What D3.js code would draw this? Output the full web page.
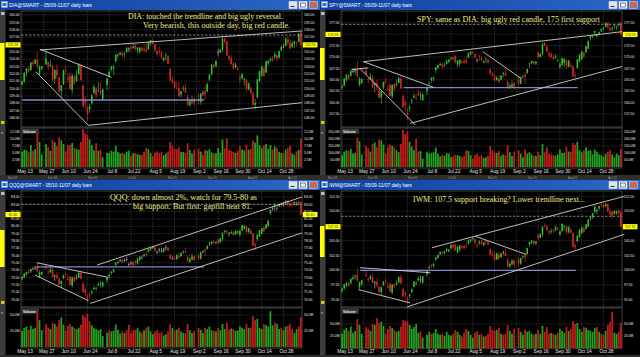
<!DOCTYPE html>
<html><head><meta charset="utf-8">
<script src="https://cdn.jsdelivr.net/npm/d3@7"></script>
<style>body{margin:0;background:#000;overflow:hidden}svg{display:block}</style>
</head><body><svg id="c" width="640" height="357"></svg>
<script>
// ---------- DATA ----------
const holidays = ["2013-05-27","2013-07-04","2013-09-02"];
const dateTicks = ["May 13","May 27","Jun 10","Jun 24","Jul 8","Jul 22","Aug 5","Aug 19","Sep 2","Sep 16","Sep 30","Oct 14","Oct 28"];
const stripLabels = ["Mar'08","Dec'08","Nov'09","Jul'10","Mar'11","Dec'11","Aug'12","Apr'13"];

const diaTitle = "DIA@SMART - 05/09-11/07 daily bars";
const spyTitle = "SPY@SMART - 05/09-11/07 daily bars";
const qqqTitle = "QQQ@SMART - 05/10-11/07 daily bars";
const iwmTitle = "IWM@SMART - 05/09-11/07 daily bars";

const diaNotes = ["DIA: touched the trendline and big ugly reversal.","Very bearish, this outside day, big red candle."];
const spyNotes = ["SPY: same as DIA: big ugly red candle, 175 first support"];
const qqqNotes = ["QQQ: down almost 2%, watch for 79.5-80 as","big support. But first: gapfill near 81."];
const iwmNotes = ["IWM: 107.5 support breaking? Lower trendline next..."];

const diaTicks = [146,147,148,149,150,151,152,153,154,155,156,157,158,159,160];
const spyTicks = [157.5,160,162.5,165,167.5,170,172.5,175,177.5];
const qqqTicks = [70,71,72,73,74,75,76,77,78,79,80,81,82,83,84];
const iwmTicks = [95,97.5,100,102.5,105,107.5,110,112.5];
const diaVolTicks = [2.5,5,7.5,10,12.5];
const spyVolTicks = [50,100,150,200,250];
const qqqVolTicks = [25,50];
const iwmVolTicks = [25,50];

// [open, high, low, close]
const diaOHLC = [
[150.6,151.1,150.4,150.91],[150.9,152.2,150.8,152.15],[152.1,152.8,151.6,152.75],[152.7,153.0,152.2,152.33],[152.5,153.6,152.4,153.54],
[153.5,153.9,153.1,153.35],[153.4,154.1,153.3,153.88],[153.9,155.0,152.6,153.07],[152.0,153.2,151.8,152.94],[152.7,153.1,152.4,153.03],
[153.3,155.4,153.2,154.09],[153.6,153.7,152.5,153.02],[153.1,153.9,152.9,153.24],[153.0,153.3,151.1,151.15],
[151.3,152.6,150.7,152.54],[152.6,153.3,151.3,151.77],[151.5,151.6,149.5,149.60],[149.7,150.5,148.7,150.40],[150.6,152.6,150.5,152.48],
[152.5,153.0,152.0,152.39],[151.5,152.0,150.8,151.22],[151.7,152.2,149.8,149.95],[149.8,152.0,149.3,151.76],[151.6,151.9,150.5,150.70],
[151.0,152.5,150.9,151.79],[152.0,153.5,151.8,153.18],[153.1,153.4,151.1,151.12],[150.4,150.6,147.4,147.58],[148.3,149.0,147.2,148.00],
[147.4,147.7,145.6,146.60],[147.2,147.9,146.7,147.60],[148.0,149.3,147.8,149.10],[149.4,150.6,149.3,150.24],[150.0,150.2,148.7,149.10],
[149.7,150.9,149.5,149.75],[149.7,150.8,149.1,149.32],[148.5,150.0,148.3,149.88],[150.5,151.5,149.8,151.36],
[151.6,152.6,151.5,152.25],[152.6,153.1,152.3,153.00],[152.7,153.2,151.9,152.91],[153.7,154.7,153.6,154.60],[154.5,154.8,154.1,154.64],
[154.8,155.0,154.5,154.84],[154.8,155.1,154.2,154.52],[154.6,155.0,154.2,154.71],[155.0,155.7,154.8,155.49],[155.4,155.6,155.0,155.44],
[155.6,155.8,155.2,155.45],[155.5,156.1,155.4,155.67],[155.9,156.0,155.1,155.42],[155.2,155.7,154.8,155.56],[155.0,155.6,154.7,155.59],
[155.5,155.7,155.0,155.21],[155.4,155.9,155.0,155.20],[155.3,156.1,154.9,155.00],[155.3,156.4,155.3,156.28],[156.2,156.6,155.8,156.58],
[156.5,156.7,156.0,156.12],[156.0,156.1,155.0,155.19],[155.1,155.2,154.3,154.71],[155.1,155.7,154.6,154.98],[154.9,155.1,154.0,154.25],
[153.9,154.3,153.6,154.19],[154.4,154.9,153.8,154.51],[154.4,154.6,153.3,153.37],[152.7,152.8,151.0,151.12],[151.1,151.6,150.7,150.81],
[150.9,151.2,150.0,150.10],[150.1,150.9,149.9,150.02],[150.1,150.9,148.9,148.97],[149.2,149.7,148.8,149.63],[150.0,150.4,149.6,150.10],
[150.1,150.7,149.4,149.46],[148.9,149.2,147.7,147.76],[147.7,148.6,147.6,148.24],[148.2,149.0,147.9,148.40],[148.6,148.8,147.6,148.10],
[148.6,149.4,147.8,148.34],[148.2,149.4,147.8,149.30],[149.4,149.7,149.0,149.38],[149.6,150.4,148.4,149.22],
[149.6,150.8,149.5,150.63],[151.2,151.9,151.0,151.91],[151.9,153.3,151.8,153.26],[153.2,153.4,152.7,153.00],[153.1,153.8,152.8,153.76],
[154.9,155.4,154.4,154.94],[154.9,155.4,154.8,155.29],[155.3,157.1,155.0,156.77],[156.8,156.9,156.1,156.36],[156.4,156.5,154.4,154.52],
[154.4,154.6,153.7,154.01],[154.1,154.5,153.2,153.34],[153.4,153.6,152.6,152.73],[152.9,153.6,152.7,153.28],[152.7,153.0,152.4,152.58],
[151.5,151.9,150.8,151.30],[151.4,152.1,151.2,151.91],[151.2,151.5,150.4,151.33],[151.2,151.3,149.6,149.96],[149.9,150.8,149.7,150.73],
[150.0,150.3,149.3,149.36],[149.4,149.6,147.7,147.76],[147.8,148.6,147.2,148.03],[148.8,151.3,148.7,151.26],[151.0,152.4,150.9,152.37],
[151.8,153.1,151.6,153.01],[152.7,153.1,151.6,151.68],[152.2,153.8,152.1,153.73],[153.4,153.9,153.1,153.72],[153.8,154.3,153.6,153.99],
[154.1,154.4,153.6,153.92],[154.3,155.0,154.0,154.67],[154.5,154.6,153.7,154.13],[154.2,155.2,154.1,155.09],[155.2,155.9,155.1,155.70],
[155.7,156.1,155.5,155.68],[155.8,156.9,155.7,156.80],[156.7,157.0,155.9,156.18],[156.2,156.7,155.3,155.46],[155.7,156.5,155.5,156.16],
[156.1,156.5,155.5,156.39],[156.3,156.4,155.7,156.18],[156.3,157.5,156.3,157.46],[157.6,157.8,155.8,155.94]
];
const diaVol = [5.5,6.2,6.0,5.2,7.8, 5.8,6.4,12.3,9.0,4.5, 8.2,7.0,5.8,9.6, 8.8,7.5,10.5,9.5,8.2, 5.5,7.8,7.9,8.6,6.8,
 6.5,6.2,8.9,13.5,12.0, 11.5,9.8,7.8,6.0,8.5, 5.8,6.2,3.5,5.0, 5.0,5.8,5.5,7.6,5.3, 4.8,5.0,4.6,5.5,5.8,
 4.0,4.9,5.0,4.6,4.4, 4.3,5.4,6.8,6.4,4.9, 3.9,5.1,5.6,5.0,5.4, 4.2,4.8,5.5,9.0,7.6, 6.5,6.4,7.0,5.3,5.4,
 5.0,8.5,6.1,4.8,6.2, 6.6,5.5,4.3,6.2, 5.8,6.4,5.2,4.8,4.9, 6.8,5.1,9.8,6.7,10.2, 6.1,5.8,5.4,5.0,5.8,
 7.5,6.3,5.9,8.0,6.2, 6.4,9.4,8.7,11.3,7.8, 6.9,7.7,8.2,6.5,7.9, 6.3,7.4,6.8,5.4,5.0, 4.9,6.3,6.9,7.6,4.8, 4.4,5.6,6.1,10.2];

const spyOHLC = [
[163.3,163.9,162.9,163.58],[163.7,165.4,163.6,165.23],[164.9,166.3,164.6,166.08],[166.0,166.4,165.1,165.25],[165.9,167.1,165.7,166.95],
[166.8,167.6,166.5,166.83],[166.8,167.6,166.1,167.12],[167.3,169.1,165.4,165.74],[163.9,165.6,163.5,165.25],[164.3,165.3,164.1,165.16],
[167.0,167.8,166.0,166.21],[165.2,165.5,164.2,165.04],[165.1,166.5,164.9,165.64],[165.4,166.0,163.2,163.30],
[163.8,164.4,162.2,164.24],[164.3,165.0,162.8,163.34],[163.0,163.4,160.9,161.09],[161.2,162.6,159.8,162.46],[163.3,164.6,162.8,164.54],
[164.8,165.3,164.1,164.48],[162.9,164.0,162.5,162.81],[163.9,164.2,161.3,161.45],[161.3,164.0,160.9,163.84],[164.0,164.3,162.6,162.87],
[163.8,165.0,163.5,164.10],[164.3,165.6,164.2,165.38],[165.3,165.8,163.0,163.09],[161.4,162.0,158.9,159.02],[160.0,160.7,158.1,159.44],
[157.8,158.6,156.2,157.51],[158.7,159.5,157.9,159.00],[160.3,160.9,159.7,160.53],[161.1,162.0,161.0,161.52],[160.9,161.9,160.5,160.83],
[162.1,162.8,161.4,161.61],[161.5,162.4,160.5,161.61],[160.5,162.0,160.4,161.74],[162.6,163.6,161.6,163.39],
[164.1,164.6,163.9,164.25],[165.0,165.6,164.4,165.43],[165.2,165.7,164.6,165.46],[167.1,167.8,166.5,167.70],[167.6,168.3,167.3,168.22],
[168.4,168.8,168.1,168.45],[168.5,168.6,167.4,167.83],[168.1,168.8,167.8,168.29],[168.5,169.5,168.3,169.14],[168.9,169.5,168.7,169.41],
[169.6,170.0,169.3,169.75],[169.8,170.0,169.3,169.44],[170.2,170.4,168.6,168.79],[168.3,169.4,167.8,169.23],[168.5,169.5,167.9,169.37],
[169.0,169.3,168.6,168.73],[169.1,169.7,168.5,168.80],[169.3,170.2,168.6,168.77],[169.9,170.9,169.7,170.89],[170.6,171.2,170.3,171.17],
[171.0,171.3,170.6,170.91],[170.6,170.8,169.6,169.94],[169.3,169.7,168.8,169.29],[170.1,170.4,169.1,169.95],[169.8,170.3,169.1,169.34],
[168.8,169.3,168.6,169.15],[169.5,170.0,168.7,169.62],[169.4,169.6,168.6,168.74],[167.3,167.5,166.1,166.33],[166.2,166.8,165.7,165.78],
[165.8,166.4,164.7,164.81],[164.9,165.9,164.8,165.44],[165.2,166.1,164.3,164.48],[165.0,166.0,164.9,165.90],[166.3,166.6,165.5,166.55],
[166.4,167.3,165.8,165.88],[164.6,164.9,163.1,163.25],[163.2,164.3,163.0,163.70],[163.5,164.9,163.4,164.02],[164.3,164.5,162.9,163.50],
[165.0,165.8,163.6,164.18],[164.1,165.7,164.0,165.51],[165.6,166.0,165.3,165.71],[166.2,166.7,164.1,165.72],
[166.5,167.4,166.3,167.37],[168.5,168.7,167.6,168.60],[168.6,169.2,168.4,169.11],[169.0,169.1,168.3,168.54],[168.6,169.1,168.2,169.00],
[171.0,171.2,169.6,169.96],[170.0,170.8,169.9,170.68],[170.7,173.1,170.3,172.75],[173.0,173.3,172.3,172.43],[172.3,172.5,171.0,171.19],
[170.9,171.2,170.0,170.38],[170.6,171.1,169.7,169.94],[170.0,170.5,169.3,169.48],[169.8,170.6,169.6,170.07],[169.3,169.6,168.9,169.38],
[167.8,168.9,167.4,168.36],[168.2,169.9,168.1,169.70],[168.7,169.7,167.9,169.59],[169.3,169.5,167.4,168.07],[167.9,169.3,167.7,169.25],
[168.1,168.9,167.8,167.81],[167.9,168.1,165.7,165.75],[166.0,166.7,164.7,165.84],[167.6,169.6,167.5,169.46],[169.0,170.6,168.8,170.52],
[169.5,171.3,169.3,171.21],[170.9,171.2,169.9,170.01],[171.0,172.4,170.9,172.35],[171.8,173.6,171.7,173.52],[174.1,174.7,173.6,174.65],
[174.5,174.8,174.1,174.67],[175.3,175.8,174.5,175.67],[174.8,175.0,174.3,174.84],[175.0,175.6,174.7,175.41],[175.6,176.2,175.5,176.18],
[176.1,176.6,175.8,176.41],[176.6,177.5,176.4,177.40],[177.4,177.6,176.1,176.53],[176.3,176.9,175.6,175.85],[176.2,176.6,175.6,176.36],
[176.7,177.1,176.2,176.99],[176.4,177.0,175.9,176.50],[177.0,177.5,176.6,177.25],[177.5,177.6,174.9,174.93]
];
const spyVol = [85,110,120,115,130, 95,100,210,185,90, 150,135,110,165, 175,140,195,190,160, 95,145,160,150,140,
 120,105,165,265,235, 255,180,145,120,200, 110,115,60,110, 95,100,105,140,95, 75,85,80,100,95,
 70,75,90,85,80, 70,80,120,115,85, 60,85,95,75,85, 65,70,80,150,120, 105,100,115,80,90,
 85,155,105,80,110, 120,95,70,125, 95,105,90,80,80, 110,85,165,105,140, 95,90,85,80,90,
 125,100,100,145,110, 110,170,160,180,120, 105,120,140,115,120, 90,125,110,90,85, 75,95,110,120,90, 70,95,85,130];

const qqqOHLC = [
[72.8,73.2,72.6,73.05],[73.0,73.6,72.9,73.55],[73.4,73.8,73.2,73.75],[73.8,74.1,73.5,73.60],[73.8,74.2,73.6,74.15],
[74.1,74.5,74.0,74.25],[74.3,74.6,74.0,74.35],[74.5,75.0,73.7,73.85],[73.1,73.9,72.9,73.70],[73.4,73.8,73.3,73.75],
[74.5,74.8,74.1,74.25],[73.8,73.9,73.3,73.70],[73.7,74.4,73.6,74.10],[74.0,74.3,73.0,73.05],
[73.2,73.4,72.5,73.25],[73.3,73.7,72.7,72.95],[72.8,73.0,71.9,72.05],[72.1,72.6,71.5,72.50],[72.9,73.4,72.7,73.30],
[73.5,73.8,73.2,73.35],[72.8,73.3,72.6,72.65],[73.1,73.2,71.9,72.00],[71.9,73.1,71.6,73.00],[73.0,73.2,72.3,72.45],
[72.9,73.4,72.7,72.95],[73.0,73.8,72.9,73.65],[73.6,73.9,72.8,72.80],[72.1,72.4,70.9,71.05],[71.4,71.6,70.4,70.95],
[70.4,70.7,69.55,70.15],[70.7,70.9,70.1,70.55],[70.9,71.3,70.7,71.05],[71.4,71.8,71.3,71.55],[71.4,71.8,71.2,71.50],
[71.9,72.4,71.8,72.05],[72.0,72.5,71.6,72.15],[71.8,72.4,71.6,72.35],[72.6,73.0,72.2,72.95],
[73.3,73.5,72.9,73.25],[73.6,73.9,73.3,73.75],[73.8,74.2,73.6,74.05],[74.7,75.1,74.5,75.00],[75.0,75.3,74.8,75.15],
[75.3,75.5,75.1,75.35],[75.4,75.5,74.9,75.15],[75.3,75.6,75.1,75.35],[75.5,75.8,75.2,75.45],[74.8,75.0,74.5,74.75],
[75.0,75.2,74.7,74.95],[75.1,75.3,74.5,74.65],[75.2,75.4,74.6,75.05],[74.9,75.7,74.7,75.60],[75.4,75.9,75.2,75.85],
[75.7,76.0,75.5,75.65],[75.9,76.3,75.8,76.10],[76.2,76.5,75.9,76.05],[76.5,76.9,76.4,76.85],[76.8,77.1,76.6,77.05],
[77.0,77.3,76.9,77.25],[77.1,77.2,76.5,76.65],[76.5,76.7,76.2,76.45],[76.8,77.0,76.4,76.75],[76.6,77.0,76.4,76.55],
[76.5,77.1,76.4,76.95],[77.1,77.4,76.7,77.10],[77.0,77.2,76.6,76.65],[76.1,76.2,75.5,75.55],[75.6,75.9,75.4,75.60],
[75.6,75.9,75.4,75.45],[75.5,76.2,75.4,76.05],[75.9,76.4,75.6,75.70],[75.9,76.4,75.8,76.35],[76.5,76.7,76.2,76.60],
[76.5,77.0,76.3,76.40],[75.8,76.0,75.1,75.20],[75.1,75.8,75.0,75.45],[75.4,76.2,75.3,75.85],[75.9,76.0,75.2,75.40],
[75.9,76.3,75.3,75.65],[75.6,76.5,75.4,76.45],[76.5,76.7,76.3,76.55],[76.8,76.9,75.9,76.60],
[76.9,77.4,76.8,77.30],[77.7,77.8,77.3,77.75],[77.6,77.9,77.4,77.90],[77.9,78.0,77.6,77.75],[77.7,77.9,77.5,77.85],
[78.2,78.2,77.5,77.75],[77.8,78.4,77.7,78.35],[78.3,79.2,78.0,79.05],[79.2,79.5,79.0,79.35],[79.4,79.5,79.0,79.25],
[79.1,79.2,78.6,79.05],[79.1,79.5,78.9,79.20],[79.2,79.3,78.7,78.80],[78.9,79.5,78.8,79.35],[79.1,79.4,78.9,79.30],
[78.8,79.6,78.6,79.35],[79.4,80.2,79.3,80.10],[79.7,80.2,79.5,80.05],[80.0,80.1,79.0,79.20],[79.2,79.8,79.0,79.75],
[79.4,79.6,78.9,78.95],[79.0,79.1,77.3,77.35],[77.5,77.8,76.75,77.30],[78.2,78.9,78.0,78.85],[78.6,79.5,78.5,79.45],
[79.0,79.8,78.9,79.75],[79.8,80.0,79.2,79.30],[79.7,80.3,79.6,80.25],[80.0,80.8,79.9,80.75],[81.8,82.3,81.6,82.25],
[82.4,82.7,82.1,82.45],[82.8,83.1,82.1,82.75],[82.4,82.7,82.1,82.55],[82.7,83.1,82.6,83.05],[83.2,83.3,82.6,82.95],
[82.9,83.3,82.7,82.95],[83.2,83.6,83.0,83.45],[83.5,83.7,82.7,83.05],[82.9,83.3,82.7,82.85],[83.1,83.3,82.6,82.95],
[83.1,83.4,82.9,83.30],[83.0,83.4,82.8,83.25],[83.4,83.5,82.9,83.15],[83.3,83.4,81.55,81.60]
];
const qqqVol = [25,30,32,27,33, 28,30,58,42,26, 36,30,28,38, 36,32,42,46,35, 25,33,36,32,30,
 28,30,35,50,47, 52,40,34,30,28, 26,28,17,22, 26,24,25,35,27, 21,24,22,26,35,
 22,26,27,30,24, 22,26,30,32,24, 20,24,26,22,23, 18,20,24,36,30, 26,27,30,24,22,
 22,36,26,22,25, 30,27,22,30, 28,32,26,25,24, 30,26,36,28,38, 27,29,28,25,26,
 32,30,28,36,30, 30,48,42,44,30, 28,36,34,32,56, 34,38,36,28,30, 26,32,33,36,28, 22,28,32,47];

const iwmOHLC = [
[96.5,97.0,96.1,96.85],[96.9,97.7,96.7,97.55],[97.4,98.0,97.1,97.85],[97.8,98.2,97.2,97.35],[97.8,98.6,97.6,98.55],
[98.5,99.2,98.3,98.75],[98.8,99.3,98.4,98.95],[99.2,100.3,98.0,98.25],[97.1,98.1,96.8,97.95],[97.6,98.4,97.4,98.30],
[99.2,100.1,98.8,99.05],[98.5,98.7,97.9,98.35],[98.5,99.2,98.3,98.95],[98.8,99.3,97.8,97.85],
[97.9,98.2,96.9,97.95],[98.0,98.6,97.1,97.45],[97.2,97.4,96.1,96.25],[96.3,97.2,95.8,97.10],[97.5,98.2,97.3,98.05],
[98.3,98.6,97.8,98.10],[97.3,98.0,96.9,97.05],[97.7,97.9,96.2,96.35],[96.2,97.7,95.9,97.55],[97.5,97.8,96.9,97.25],
[97.6,98.3,97.4,97.85],[97.9,98.9,97.8,98.85],[98.8,99.2,97.7,97.75],[96.8,97.1,95.4,95.55],[96.1,96.4,95.1,95.85],
[95.2,95.5,94.35,94.95],[95.6,96.0,95.2,95.85],[96.3,96.9,96.1,96.75],[97.2,98.2,97.1,98.05],[97.7,98.2,97.4,97.85],
[98.3,99.0,98.1,98.65],[98.5,99.1,97.8,98.45],[97.9,99.0,97.7,98.95],[99.3,100.0,98.9,99.95],
[100.4,100.8,100.1,100.55],[100.9,101.1,100.3,100.75],[100.7,101.2,100.4,101.05],[101.8,102.3,101.5,102.15],[102.1,102.7,101.9,102.55],
[102.7,103.2,102.5,103.05],[103.0,103.2,102.5,102.85],[102.9,103.3,102.6,103.15],[103.3,103.8,103.1,103.55],[103.4,103.6,103.0,103.45],
[103.7,104.4,103.6,104.25],[104.3,104.5,103.7,103.85],[104.3,104.5,103.2,103.35],[103.0,104.1,102.8,103.95],[103.5,104.3,103.1,104.15],
[104.0,104.2,103.6,103.85],[104.1,104.4,103.4,103.75],[104.1,104.6,103.7,103.95],[104.5,105.2,104.3,105.05],[105.0,105.3,104.6,105.25],
[105.3,105.6,105.0,105.45],[105.3,105.4,104.4,104.65],[104.3,104.6,103.8,104.15],[104.6,105.0,104.2,104.85],[104.8,105.1,104.2,104.45],
[104.2,104.8,104.0,104.65],[104.9,105.2,104.3,104.85],[104.8,105.0,104.2,104.35],[103.5,103.7,102.5,102.65],[102.7,103.2,102.3,102.55],
[102.6,103.0,101.6,101.65],[101.8,103.0,101.7,102.85],[102.6,103.2,101.8,101.95],[102.2,102.9,102.1,102.85],[103.1,103.3,102.6,103.05],
[102.9,103.5,102.4,102.45],[101.8,102.0,100.5,100.65],[100.6,101.4,100.4,101.05],[101.0,101.9,100.8,101.55],[101.7,101.8,100.4,100.95],
[101.8,102.2,100.6,101.15],[101.1,102.1,100.9,102.05],[102.2,102.5,101.9,102.35],[102.7,102.9,101.4,102.25],
[102.7,103.8,102.6,103.75],[104.4,104.8,104.0,104.75],[104.6,105.1,104.4,104.95],[104.9,105.0,104.2,104.45],[104.5,104.9,104.2,104.85],
[105.9,106.0,105.1,105.45],[105.5,106.2,105.4,106.15],[106.1,107.5,105.7,107.35],[107.6,107.9,107.2,107.45],[107.4,107.6,106.6,106.85],
[106.6,106.9,105.9,106.35],[106.5,107.0,106.1,106.65],[106.7,107.0,106.3,106.55],[106.7,107.5,106.6,107.35],[107.1,107.3,106.7,106.95],
[106.0,106.8,105.8,106.55],[106.6,107.9,106.5,107.85],[107.3,107.6,106.7,107.45],[107.4,107.6,106.1,106.45],[106.4,107.4,106.2,107.35],
[106.8,107.1,106.2,106.35],[106.3,106.4,103.8,103.95],[104.2,104.6,103.3,103.85],[104.9,105.9,104.7,105.85],[105.6,106.9,105.5,106.85],
[106.3,107.3,106.1,107.25],[107.1,107.4,106.3,106.45],[107.0,107.8,106.9,107.75],[107.4,108.6,107.3,108.55],[108.7,109.0,108.4,108.75],
[108.9,109.7,108.7,109.65],[109.9,111.1,109.6,110.75],[110.2,110.4,109.5,110.15],[110.4,110.9,110.2,110.85],[111.1,111.3,110.6,110.95],
[111.0,111.3,110.5,110.65],[110.8,111.4,110.6,111.15],[111.2,111.4,109.8,109.95],[109.9,110.4,109.2,109.45],[109.9,110.0,108.7,109.15],
[109.5,110.1,109.4,110.05],[109.6,110.1,109.3,109.95],[110.1,110.3,109.3,109.65],[109.8,110.1,107.3,107.35]
];
const iwmVol = [30,38,42,36,45, 32,36,60,48,30, 44,40,36,50, 48,62,52,55,46, 30,40,46,42,38,
 34,36,45,58,56, 55,48,40,44,50, 32,35,22,28, 34,30,32,40,30, 28,30,26,34,28,
 26,30,38,34,28, 24,32,40,36,28, 22,32,36,28,30, 24,26,30,46,38, 36,38,42,30,28,
 30,48,36,30,40, 42,34,28,38, 34,36,30,28,30, 38,30,46,34,44, 30,32,30,28,32,
 40,36,32,44,36, 40,56,50,52,40, 34,44,42,38,36, 34,42,44,34,30, 28,36,48,54,75, 32,30,34,52];

// trendlines in data units: [weekday index 1, price 1, weekday index 2, price 2]
const diaLines = [[8.2,155.25,128.5,157.83],[8.2,155.34,41,151.54],[6.3,152.3,30.5,145.0],[30.5,145.0,128.5,148.08]];
const spyLines = [[9.8,168.96,128.5,175.53],[9.8,168.96,42,163.35],[8.2,167.5,33.6,155.1],[31.3,155.46,128.5,167.9],[64.6,171.15,82,165.32],[4.3,167.2,12,167.6]];
const qqqLines = [[34.4,74.68,128.5,84.0],[31.3,69.44,128.5,79.09],[6.7,75.0,39.7,73.0],[5.9,73.32,30.5,69.81]];
const iwmLines = [[41.3,103.8,129.6,112.5],[29.8,93.77,129.6,106.07],[61.2,105.73,84.3,102.69],[8.2,100.42,40.5,99.57],[7.5,96.7,31.3,94.45]];
// horizontal support: [from index, to index, price]
const diaSupport = [0,83.4,148.45];
const spySupport = [28.2,108.1,163.26];
const qqqSupport = [6.7,83.5,74.45];
const iwmSupport = [8.2,107.3,99.98];
const diaDash = 157.28, spyDash = 177.15, qqqDash = 83.0, iwmDash = 109.12;

// ---------- CALENDAR ----------
const fmt = d3.timeFormat("%Y-%m-%d");
const weekdays = [];
for (let d = new Date(2013,4,13); d <= new Date(2013,10,7); d.setDate(d.getDate()+1)) {
  const dw = d.getDay(); if (dw > 0 && dw < 6) weekdays.push(fmt(d));
}
const tradeIdx = weekdays.map((s,i)=>[s,i]).filter(([s])=>!holidays.includes(s)).map(([,i])=>i);
const parseTick = d3.timeParse("%b %d %Y");
const tickIdx = dateTicks.map(t => weekdays.indexOf(fmt(parseTick(t+" 2013"))));

// ---------- PANELS ----------
const panels = [
 {px:0,py:0,title:diaTitle,ohlc:diaOHLC,vol:diaVol,ticks:diaTicks,dom:[146,160],rng:[118,15],
  vticks:diaVolTicks,vdom:[0,12.5],vrng:[167,132],lines:diaLines,sup:diaSupport,dash:diaDash,
  notes:diaNotes,notePos:[[128,283,18.6],[143,290,27.6]],yb:[43,80],strip:true},
 {px:320,py:0,title:spyTitle,ohlc:spyOHLC,vol:spyVol,ticks:spyTicks,dom:[157.5,177.5],rng:[114,22.7],
  vticks:spyVolTicks,vdom:[0,250],vrng:[167,132],lines:spyLines,sup:spySupport,dash:spyDash,
  notes:spyNotes,notePos:[[97,280,21.6]],yb:[48,80],strip:true},
 {px:0,py:180,title:qqqTitle,ohlc:qqqOHLC,vol:qqqVol,ticks:qqqTicks,dom:[70,84],rng:[119.3,17],
  vticks:qqqVolTicks,vdom:[0,50],vrng:[167,135],lines:qqqLines,sup:qqqSupport,dash:qqqDash,
  notes:qqqNotes,notePos:[[110,257,19.6],[133,252,28.8]],yb:[50,87],strip:false},
 {px:320,py:180,title:iwmTitle,ohlc:iwmOHLC,vol:iwmVol,ticks:iwmTicks,dom:[95,112.5],rng:[119.7,16.3],
  vticks:iwmVolTicks,vdom:[0,50],vrng:[168.5,144],lines:iwmLines,sup:iwmSupport,dash:iwmDash,
  notes:iwmNotes,notePos:[[93,265,22.4]],yb:[46,77],strip:false}
];

const svg = d3.select("#c");
const defs = svg.append("defs");
const gr = defs.append("linearGradient").attr("id","tb");
gr.append("stop").attr("offset",0).attr("stop-color","#0d3f9e");
gr.append("stop").attr("offset",1).attr("stop-color","#2c68c6");
svg.append("rect").attr("width",640).attr("height",357).attr("fill","#000");

const SANS = "Liberation Sans, Arial, sans-serif";
const UP="#2fbf2f", DN="#d42626", DJ="#a8a8a8", VUP="#21a321", VDN="#c41c1c";

panels.forEach((P,pi)=>{
  const g = svg.append("g").attr("transform",`translate(${P.px},${P.py})`);
  const L=21, R=302, PT=11, PB=127, VT=128, VB=168;
  const x = d3.scaleLinear().domain([-0.5, weekdays.length-0.5]).range([L,R]);
  const y = d3.scaleLinear().domain(P.dom).range(P.rng);
  const yv = d3.scaleLinear().domain(P.vdom).range(P.vrng);
  const step = x(1)-x(0);

  // title bar
  g.append("rect").attr("width",320).attr("height",10).attr("fill","url(#tb)");
  g.append("rect").attr("x",1.5).attr("y",1.5).attr("width",6).attr("height",6).attr("fill","#e4ecf8").attr("stroke","#7fa0d0").attr("stroke-width",0.5);
  g.append("rect").attr("x",2.5).attr("y",3).attr("width",4).attr("height",3).attr("fill","#3b6fc4");
  g.append("text").attr("x",9).attr("y",7.3).attr("fill","#fff").attr("font-family",SANS).attr("font-size",5)
    .attr("textLength",83).attr("lengthAdjust","spacingAndGlyphs").text(P.title);
  [[289,"#dfe3ee"],[299,"#f2f4fa"],[309.5,"#c56a56"]].forEach(([bx,c])=>{
    g.append("rect").attr("x",bx).attr("y",1.5).attr("width",8).attr("height",7).attr("fill",c).attr("stroke","#fff").attr("stroke-width",0.4);
  });
  g.append("rect").attr("x",290.5).attr("y",6).attr("width",4).attr("height",1).attr("fill","#334");
  g.append("rect").attr("x",300.5).attr("y",3).attr("width",5).attr("height",4).attr("fill","none").attr("stroke","#334").attr("stroke-width",0.6);

  // left strip
  g.append("rect").attr("x",0).attr("y",10).attr("width",5.5).attr("height",165).attr("fill","#3c3c3c");
  g.append("rect").attr("x",1).attr("y",12).attr("width",3.5).attr("height",3).attr("fill","#bbb");
  g.append("rect").attr("x",0).attr("y",P.yb[0]).attr("width",4.5).attr("height",P.yb[1]-P.yb[0]).attr("fill","#ffff00");
  g.append("rect").attr("x",1).attr("y",121).attr("width",3.5).attr("height",3).attr("fill","#d8c800");
  g.append("text").attr("x",1).attr("y",134).attr("fill","#ccc").attr("font-family",SANS).attr("font-size",4).text("x");

  // grid
  const grid = g.append("g").attr("stroke","#474747").attr("stroke-width",0.6).attr("stroke-dasharray","1.5,1");
  P.ticks.forEach(t=>grid.append("line").attr("x1",L).attr("x2",R).attr("y1",y(t)).attr("y2",y(t)));
  P.vticks.forEach(t=>grid.append("line").attr("x1",L).attr("x2",R).attr("y1",yv(t)).attr("y2",yv(t)));
  tickIdx.forEach(i=>{
    grid.append("line").attr("x1",x(i)).attr("x2",x(i)).attr("y1",PT).attr("y2",PB);
    grid.append("line").attr("x1",x(i)).attr("x2",x(i)).attr("y1",VT).attr("y2",VB);
  });

  // pane frames
  g.append("rect").attr("x",L).attr("y",PT).attr("width",R-L).attr("height",PB-PT).attr("fill","none").attr("stroke","#6a6a6a").attr("stroke-width",0.6);
  g.append("rect").attr("x",L).attr("y",VT).attr("width",R-L).attr("height",VB-VT).attr("fill","none").attr("stroke","#6a6a6a").attr("stroke-width",0.6);

  // axes labels
  const lab = g.append("g").attr("font-family",SANS).attr("font-size",3.4).attr("fill","#e6e6e6");
  P.ticks.forEach(t=>{
    lab.append("text").attr("x",L-1.5).attr("y",y(t)+1.2).attr("text-anchor","end").text(d3.format(".2f")(t));
    lab.append("text").attr("x",R+2).attr("y",y(t)+1.2).text(d3.format(".2f")(t));
  });
  P.vticks.forEach(t=>{
    lab.append("text").attr("x",L-1.5).attr("y",yv(t)+1.2).attr("text-anchor","end").text(d3.format(".1f")(t)+"M");
    lab.append("text").attr("x",R+2).attr("y",yv(t)+1.2).text(d3.format(".1f")(t)+"M");
  });
  dateTicks.forEach((t,k)=>{
    g.append("text").attr("x",x(tickIdx[k])+3).attr("y",173).attr("text-anchor","middle")
      .attr("font-family",SANS).attr("font-size",4.8).attr("fill","#e6e6e6").text(t);
  });

  // bottom strip
  g.append("rect").attr("x",0).attr("y",175).attr("width",320).attr("height",5).attr("fill","#2e2e2e");
  if (P.strip) stripLabels.forEach((t,k)=>g.append("text").attr("x",8+k*40).attr("y",178.6).attr("font-family",SANS)
     .attr("font-size",3).attr("fill","#9a9a9a").text(t));

  // volume
  const bars = P.ohlc.map((b,i)=>({w:tradeIdx[i],o:b[0],h:b[1],l:b[2],c:b[3],v:P.vol[i]}));
  const colorOf = d => Math.abs(d.c-d.o) <= 0.05 ? DJ : (d.c > d.o ? UP : DN);
  g.append("g").selectAll("rect").data(bars).join("rect")
    .attr("x",d=>x(d.w)-step*0.4).attr("width",step*0.8)
    .attr("y",d=>yv(d.v)).attr("height",d=>yv(0)-yv(d.v))
    .attr("fill",d=>d.c>=d.o?VUP:VDN);
  g.append("rect").attr("x",L+0.8).attr("y",VT+0.8).attr("width",17).attr("height",5).attr("fill","#3a3a3a");
  g.append("text").attr("x",L+2).attr("y",VT+4.6).attr("font-family",SANS).attr("font-size",3.6).attr("font-weight","bold").attr("fill","#eee").text("Volume");

  // candles
  const cg = g.append("g");
  cg.selectAll("line").data(bars).join("line")
    .attr("x1",d=>x(d.w)).attr("x2",d=>x(d.w)).attr("y1",d=>y(d.h)).attr("y2",d=>y(d.l))
    .attr("stroke",colorOf).attr("stroke-width",0.7);
  cg.selectAll("rect").data(bars).join("rect")
    .attr("x",d=>x(d.w)-step*0.36).attr("width",step*0.72)
    .attr("y",d=>y(Math.max(d.o,d.c))).attr("height",d=>Math.max(0.7,Math.abs(y(d.o)-y(d.c))))
    .attr("fill",colorOf);

  // trend lines
  const ag = g.append("g");
  ag.append("line").attr("x1",L).attr("x2",R).attr("y1",y(P.dash)).attr("y2",y(P.dash))
    .attr("stroke","#b4b4b4").attr("stroke-width",0.7).attr("stroke-dasharray","2.5,1.5");
  ag.append("line").attr("x1",x(P.sup[0])).attr("x2",x(P.sup[1])).attr("y1",y(P.sup[2])).attr("y2",y(P.sup[2]))
    .attr("stroke","#8686cc").attr("stroke-width",1.3);
  ag.selectAll("line.tl").data(P.lines).join("line").attr("class","tl")
    .attr("x1",d=>x(d[0])).attr("y1",d=>y(d[1])).attr("x2",d=>x(d[2])).attr("y2",d=>y(d[3]))
    .attr("stroke","#d0d0d0").attr("stroke-width",0.9);

  // last price boxes
  const last = P.ohlc[P.ohlc.length-1][3];
  [[5.5,L-0.5],[R+0.8,R+15.5]].forEach(([a,b])=>{
    g.append("rect").attr("x",a).attr("y",y(last)-2.6).attr("width",b-a).attr("height",5.2).attr("fill","#ffff00");
    g.append("text").attr("x",(a+b)/2).attr("y",y(last)+1.3).attr("text-anchor","middle").attr("font-family",SANS)
      .attr("font-size",3.4).attr("fill","#333").text(d3.format(".2f")(last));
  });

  // notes
  P.notes.forEach((t,k)=>{
    const [x0,x1,yb] = P.notePos[k];
    g.append("text").attr("x",x0).attr("y",yb).attr("font-family","Liberation Serif, Times New Roman, serif")
      .attr("font-size",7.8).attr("fill","#f2ec86").attr("textLength",x1-x0).attr("lengthAdjust","spacingAndGlyphs").text(t);
  });
});
</script>
</body></html>
